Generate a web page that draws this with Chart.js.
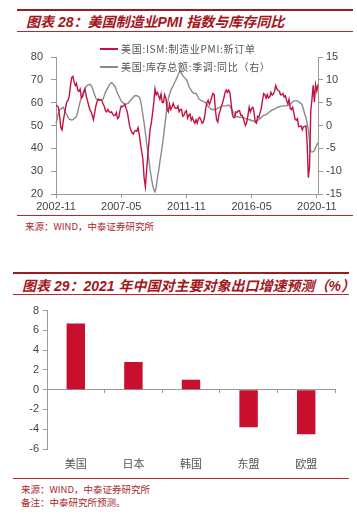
<!DOCTYPE html>
<html>
<head>
<meta charset="utf-8">
<script src="https://cdn.jsdelivr.net/npm/chart.js@4.4.0/dist/chart.umd.min.js"></script>
<style>
  html,body{margin:0;padding:0;background:#fff;}
  body{width:357px;height:520px;position:relative;overflow:hidden;font-family:"Liberation Sans","Noto Sans CJK SC",sans-serif;}
  .abs{position:absolute;}
  .rule-thick{height:2px;background:#9b1b1f;}
  .rule-thin{height:1px;background:#b8282e;}
  .title{font-family:"Liberation Sans","Noto Sans CJK SC",sans-serif;font-weight:bold;font-style:italic;font-size:14px;color:#a3161d;white-space:nowrap;line-height:16px;}
  .src{font-family:"Noto Sans CJK SC",sans-serif;font-size:9.5px;color:#a8282c;white-space:nowrap;line-height:12px;}
  .leg{font-family:"Noto Sans CJK SC",sans-serif;font-size:10px;letter-spacing:0.7px;color:#555;white-space:nowrap;line-height:12px;}
  .legline{height:2px;width:18px;}
</style>
</head>
<body>
<div class="abs rule-thick" style="left:17px;top:9px;width:336px;"></div>
<div class="abs title" style="left:26px;top:14px;">图表 28：美国制造业PMI 指数与库存同比</div>
<div class="abs rule-thin" style="left:17px;top:31px;width:336px;"></div>

<canvas id="c1" class="abs" width="357" height="175" style="left:0;top:40px;"></canvas>

<div class="abs legline" style="left:100px;top:48px;background:#c2123f;"></div>
<div class="abs leg" style="left:121px;top:43px;">美国:ISM:制造业PMI:新订单</div>
<div class="abs legline" style="left:100px;top:66px;background:#8a8a8a;"></div>
<div class="abs leg" style="left:121px;top:61px;">美国:库存总额:季调:同比（右）</div>

<div class="abs rule-thin" style="left:17px;top:215px;width:336px;"></div>
<div class="abs src" style="left:25px;top:220px;">来源：WIND，中泰证券研究所</div>

<div class="abs rule-thick" style="left:13px;top:272px;width:336px;"></div>
<div class="abs title" style="left:22px;top:278px;">图表 29：2021 年中国对主要对象出口增速预测（%）</div>
<div class="abs rule-thin" style="left:13px;top:294px;width:336px;"></div>

<canvas id="c2" class="abs" width="357" height="175" style="left:0;top:300px;"></canvas>

<div class="abs rule-thin" style="left:13px;top:478px;width:336px;"></div>
<div class="abs src" style="left:21px;top:483px;">来源：WIND，中泰证券研究所</div>
<div class="abs src" style="left:21px;top:496px;">备注：中泰研究所预测。</div>

<script>
// ---------- Chart 28 data ----------
const startYear = 2002, startMonth = 11, monthCount = 218;
const monthLabels = [];
for (let i = 0; i < monthCount; i++) {
  const t = startYear * 12 + (startMonth - 1) + i;
  const y = Math.floor(t / 12), m = t % 12 + 1;
  monthLabels.push(y + '-' + (m < 10 ? '0' + m : m));
}
const xTickEvery = 54; // 2002-11, 2007-05, 2011-11, 2016-05, 2020-11

const ismNewOrders = [
 59,58.5,58,54,49,48,52,55,58,60.5,
 61,63,67.5,71,71.5,69,67.5,68.5,65.5,65,
 66,62,62.5,64.5,66,63,61,59,57,56,
 54.5,52.6,55.5,58.5,60.5,61.5,61,61.3,61,59.3,
 58.4,56.5,56,57,56,55.7,56,55,54.3,54.5,
 55.7,53,53.5,56.5,58.5,58.2,58.5,59.3,57.5,56,
 53,49.7,48,46.8,46.2,47.5,47.8,47.5,49,46,
 42,38.5,35,27,23.2,30,37,43,48.5,51.3,
 55.5,60,66,63.5,64.5,63,61.5,63.8,60,60,
 63.5,62,57,56,59.3,57,58,59.7,58.2,57.5,
 57.5,58.5,56,57,57,54,54.5,56,56.5,53.2,
 54.5,55,52.3,53.5,52,51,52.5,51,53,53.5,
 52.5,51,51.5,53.5,57.5,60,61,59.3,60.5,62.5,
 64,63.5,57,52.5,51.5,55,56.5,58.5,60,62,
 64.5,65.5,64.5,65.5,64.5,60,55,53.5,53.5,56,
 55.7,56.5,56.5,54.5,54.5,53.5,51.5,50,51.5,54.5,
 58,56,57.5,58,56,51.5,51,54,53.5,55.5,
 57.5,61,64,63.5,62,63.5,62,62.5,64.5,63.3,
 63.8,65,67.5,66,65.3,65,63.5,63.5,64,62.5,
 63,61,59.5,61.5,57.5,57,58,55.5,52.8,52.3,
 53,49.5,49.6,49.8,48,49.5,49.5,49.8,42.2,27.1,
 31.8,56.4,61.5,67.6,60.2,67.9,65.1,67.9
];

const inventoryYoY = [
 0.5,1.5,2.8,3.4,3.6,3.8,4.0,3.4,2.8,2.3,
 1.8,1.4,1.3,1.2,1.3,1.5,1.7,2.0,3.0,4.2,
 5.2,6.0,6.9,7.6,8.1,8.6,8.8,8.9,9.0,8.8,
 8.3,7.5,6.7,6.0,5.7,5.6,5.7,5.6,5.7,5.8,
 6.6,7.3,7.8,8.3,8.8,9.2,9.4,9.2,8.8,8.5,
 7.7,7.0,6.5,5.9,5.4,5.1,4.8,4.6,4.7,4.8,
 4.9,5.3,5.6,5.9,6.2,6.5,6.5,6.5,6.4,6.2,
 5.5,4.0,2.2,0.5,-1.5,-3.8,-5.5,-7.8,-9.8,-11.5,
 -13.0,-14.0,-14.5,-13.5,-11.5,-10,-8,-6.3,-4.5,-2.5,
 -0.3,2.0,4.3,5.9,6.8,7.6,8.2,8.7,9.3,9.8,
 10.4,11.0,11.6,12.0,11.4,10.9,10.6,10.3,10.1,9.5,
 8.6,8.1,7.7,7.3,7.1,7.0,7.0,6.6,6.0,5.7,
 5.5,5.4,5.3,5.1,5.0,4.6,4.2,3.9,3.7,3.5,
 3.5,3.5,3.5,3.6,3.8,3.9,4.0,4.2,4.3,4.3,
 4.3,4.3,4.4,4.5,4.3,3.8,3.3,2.8,2.4,2.0,
 1.9,1.9,1.8,1.8,1.8,1.7,1.6,1.5,1.4,1.3,
 1.3,1.2,1.1,1.0,1.0,0.9,0.9,1.1,1.3,1.5,
 1.7,2.0,2.2,2.3,2.4,2.6,2.8,3.0,3.2,3.4,
 3.5,3.6,3.8,3.9,4.0,4.1,4.2,4.3,4.3,4.3,
 4.3,4.3,4.4,4.5,4.6,4.9,5.2,5.4,5.4,5.4,
 5.4,5.2,5.0,4.8,4.4,3.5,2.5,1.8,0.5,-1.0,
 -3.5,-5.7,-5.8,-5.7,-5.5,-4.8,-4.2,-3.8
];

// ---------- Chart 29 data ----------
const exportTargets = ['美国','日本','韩国','东盟','欧盟'];
const exportGrowth2021 = [6.7, 2.8, 1.0, -3.8, -4.5];

const numFont = {family:'"Liberation Sans", Arial, sans-serif', size:11};
const cjkFont = {family:'"Noto Sans CJK SC", sans-serif', size:11};
const axisGray = '#9a9a9a';
const tickColor = '#444';

new Chart(document.getElementById('c1'), {
  type: 'line',
  data: {
    labels: monthLabels,
    datasets: [
      {label:'美国:ISM:制造业PMI:新订单', data: ismNewOrders, yAxisID:'y', borderColor:'#c2123f', borderWidth:1.4, pointRadius:0, tension:0, order:1},
      {label:'美国:库存总额:季调:同比（右）', data: inventoryYoY, yAxisID:'y1', borderColor:'#8a8a8a', borderWidth:1.4, pointRadius:0, tension:0, order:2}
    ]
  },
  options: {
    responsive:false, animation:false, devicePixelRatio:1,
    layout:{padding:{top:17,left:0,right:0,bottom:0}},
    plugins:{legend:{display:false}, tooltip:{enabled:false}},
    scales:{
      x:{
        type:'category', offset:false,
        grid:{display:true, drawOnChartArea:false, drawTicks:true, tickLength:4, color:axisGray},
        border:{display:true, color:axisGray},
        ticks:{autoSkip:false, maxRotation:0, minRotation:0, padding:2, font:numFont, color:tickColor},
        afterBuildTicks: s => { s.ticks = s.ticks.filter(t => t.value % xTickEvery === 0); },
        afterFit: s => { s.height = 21; }
      },
      y:{
        position:'left', min:20, max:80,
        ticks:{stepSize:10, padding:8, font:numFont, color:tickColor},
        grid:{drawOnChartArea:false, tickLength:5, color:axisGray},
        border:{display:true, color:axisGray},
        afterFit: s => { s.width = 56; }
      },
      y1:{
        position:'right', min:-15, max:15,
        ticks:{stepSize:5, padding:3, font:numFont, color:tickColor},
        grid:{drawOnChartArea:false, tickLength:5, color:axisGray},
        border:{display:true, color:axisGray},
        afterFit: s => { s.width = 39; }
      }
    }
  }
});

new Chart(document.getElementById('c2'), {
  type: 'bar',
  data: {
    labels: exportTargets,
    datasets: [{label:'2021年出口增速预测', data: exportGrowth2021, backgroundColor:'#c8102e', borderWidth:0, categoryPercentage:1, barPercentage:0.32}]
  },
  options: {
    responsive:false, animation:false, devicePixelRatio:1,
    layout:{padding:{top:9,left:0,right:22,bottom:0}},
    plugins:{legend:{display:false}, tooltip:{enabled:false}},
    scales:{
      x:{
        grid:{display:false}, border:{display:false},
        ticks:{padding:0, font:cjkFont, color:'#555'},
        afterFit: s => { s.height = 26; }
      },
      x2:{
        type:'category', axis:'x', position:{y:0}, labels: exportTargets, offset:true,
        grid:{offset:true, drawOnChartArea:false, drawTicks:true, tickLength:3, color:axisGray},
        border:{display:true, color:axisGray},
        ticks:{display:false}
      },
      y:{
        min:-6, max:8,
        ticks:{stepSize:2, padding:4, font:numFont, color:tickColor},
        grid:{drawOnChartArea:false, tickLength:4, color:axisGray},
        border:{display:true, color:axisGray},
        afterFit: s => { s.width = 47; }
      }
    }
  }
});
</script>
</body>
</html>
